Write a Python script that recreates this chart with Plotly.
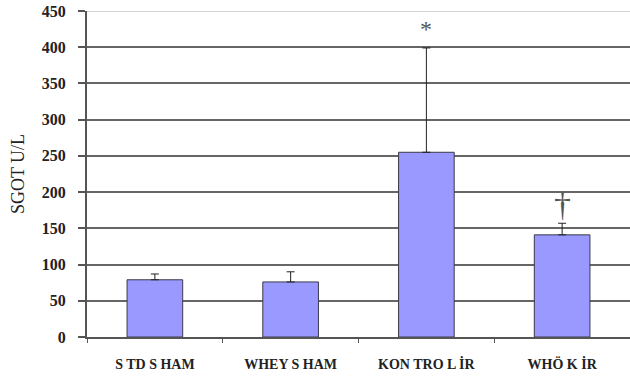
import plotly.graph_objects as go

# Serum SGOT by group: mean with upper standard-deviation bar
groups = ["S TD S HAM", "WHEY S HAM", "KON TRO L İR", "WHÖ K İR"]
sgot_mean = [79, 76, 255, 141]
sgot_sd = [8, 14, 144, 16]
y_ticks = [0, 50, 100, 150, 200, 250, 300, 350, 400, 450]

# significance markers: (group, symbol, value at which the symbol is centred)
sig_marks = [("KON TRO L İR", "*", 425), ("WHÖ K İR", "†", 183)]

serif = "Liberation Serif, Times New Roman, serif"

fig = go.Figure(
    go.Bar(
        x=groups,
        y=sgot_mean,
        width=0.41,
        marker=dict(color="#9999FF", line=dict(color="#3a3a4a", width=1)),
        error_y=dict(
            type="data",
            symmetric=False,
            array=sgot_sd,
            arrayminus=[0] * len(sgot_sd),
            color="#222222",
            thickness=1,
            width=4,
        ),
    )
)

for grp, sym, yv in sig_marks:
    fig.add_annotation(
        x=grp, y=yv, text=sym, showarrow=False,
        font=dict(family=serif, size=24 if sym == "*" else 34, color="#555555"),
    )

# the top gridline is drawn lighter than the rest
fig.add_shape(
    type="line", xref="paper", yref="y", x0=0, x1=1, y0=y_ticks[-1], y1=y_ticks[-1],
    line=dict(color="#d4d4d4", width=2), layer="above",
)

fig.update_layout(
    width=630,
    height=379,
    margin=dict(l=87, r=0, t=11, b=42),
    paper_bgcolor="white",
    plot_bgcolor="white",
    showlegend=False,
    bargap=0.59,
    font=dict(family=serif, color="#222222"),
)

fig.update_xaxes(
    type="category",
    range=[-0.5, 3.5],
    showline=True,
    linecolor="#555555",
    linewidth=2,
    ticks="outside",
    tickson="boundaries",
    ticklen=4,
    tickcolor="#555555",
    tickfont=dict(family=serif, size=14, color="#222222", weight="bold"),
    ticklabelstandoff=13,
    showgrid=False,
)

fig.update_yaxes(
    range=[0, 450],
    tickvals=y_ticks,
    showline=True,
    linecolor="#555555",
    linewidth=2,
    ticks="outside",
    ticklen=7,
    tickcolor="#555555",
    tickwidth=2,
    ticklabelstandoff=9,
    tickfont=dict(family=serif, size=16, color="#222222", weight="bold"),
    showgrid=True,
    gridcolor="#666666",
    gridwidth=2,
    zeroline=False,
    title=dict(text="SGOT U/L", font=dict(family=serif, size=18, color="#222222"), standoff=12),
)

fig.write_html("out.html")
